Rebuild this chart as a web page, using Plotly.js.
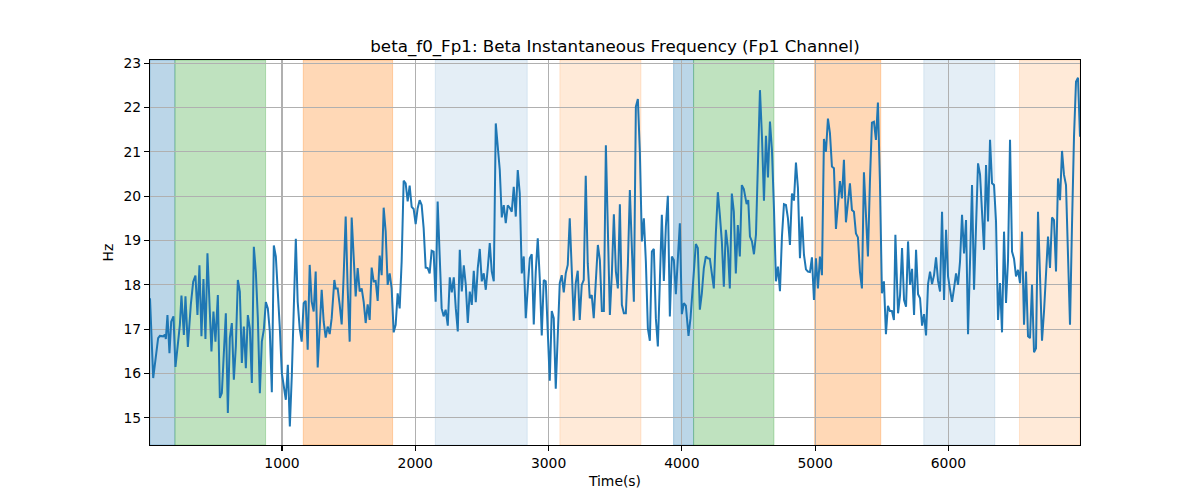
<!DOCTYPE html>
<html>
<head>
<meta charset="utf-8">
<script src="https://cdn.plot.ly/plotly-3.0.1.min.js"></script>
<style>
  html, body { margin: 0; padding: 0; background: #fff; }
  #plot { width: 1200px; height: 500px; }
</style>
</head>
<body>
<div id="plot"></div>
<script>
// time (s) and instantaneous frequency (Hz)
var time = [
  10, 34, 71, 84, 109, 121, 129, 141, 156, 169, 186, 201, 221, 234, 246, 264, 276, 294, 316, 334,
  351, 366, 381, 396, 411, 426, 441, 456, 471, 486, 501, 519, 534, 549, 564, 579, 594, 609, 624, 639,
  654, 669, 684, 699, 714, 729, 744, 759, 774, 789, 804, 819, 834, 849, 864, 879, 894, 909, 924, 939,
  954, 969, 984, 999, 1014, 1029, 1044, 1059, 1074, 1089, 1104,
  1118, 1133, 1148, 1163, 1178, 1193, 1208, 1223, 1238, 1253, 1268, 1283, 1298, 1313, 1328, 1343, 1358, 1373, 1393, 1403,
  1418, 1433, 1448, 1463, 1478, 1493, 1508, 1523, 1538, 1553, 1568, 1583, 1598, 1613, 1628, 1643, 1658, 1673, 1688, 1703,
  1718, 1733, 1748, 1763, 1778, 1793, 1808, 1823, 1838, 1853, 1868, 1883, 1898, 1913, 1928, 1943, 1958, 1973, 1988, 2003,
  2018, 2033, 2048, 2063, 2078, 2093, 2108, 2123, 2138, 2153, 2168, 2183, 2198, 2213, 2228,
  2244, 2259, 2274, 2289, 2304, 2319, 2334, 2349, 2364, 2379, 2394, 2409, 2424, 2439, 2454, 2469, 2484, 2499, 2514, 2529,
  2544, 2559, 2574, 2589, 2604, 2619, 2634, 2649, 2664, 2679, 2694, 2709, 2724, 2739, 2754, 2769, 2784, 2799, 2814, 2829,
  2844, 2859, 2874, 2889, 2904, 2919, 2934, 2949, 2964, 2979, 2994, 3009, 3024, 3039, 3054, 3069, 3084, 3099, 3114, 3129,
  3144, 3159, 3174, 3189, 3204, 3219, 3234, 3249, 3264, 3279, 3294, 3309, 3324, 3339,
  3370, 3385, 3400, 3415, 3430, 3445, 3460, 3475, 3490, 3505, 3520, 3535, 3550, 3565, 3580, 3595, 3610, 3625, 3640, 3655,
  3670, 3685, 3700, 3715, 3730, 3745, 3760, 3775, 3790, 3805, 3820, 3835, 3850, 3865, 3880, 3895, 3910, 3925, 3940, 3955,
  3970, 3985, 4000, 4015, 4030, 4050, 4065, 4080, 4090, 4105, 4120, 4135, 4150, 4165, 4180, 4195, 4210, 4225, 4240, 4255,
  4270, 4285, 4300, 4315, 4330, 4345, 4360, 4375, 4390, 4405, 4420, 4435, 4450, 4465,
  4486, 4498, 4511, 4526, 4541, 4556, 4571, 4586, 4601, 4616, 4631, 4646, 4661, 4676, 4691, 4706, 4721, 4736, 4751, 4766,
  4781, 4796, 4811, 4826, 4841, 4856, 4871, 4886, 4901, 4916, 4931, 4946, 4961, 4976, 4991, 5006, 5021, 5036, 5051, 5066,
  5081, 5096, 5111, 5126, 5141, 5156, 5171, 5186, 5201, 5216, 5231, 5246, 5261, 5276, 5291, 5306, 5321, 5336, 5351, 5366,
  5381, 5396, 5411, 5426, 5441, 5456, 5471, 5486, 5501, 5516, 5531, 5546, 5561, 5576, 5591,
  5602, 5622, 5637, 5652, 5667, 5682, 5697, 5712, 5727, 5742, 5757, 5772, 5787, 5802, 5817, 5832, 5847, 5862, 5877, 5892,
  5907, 5922, 5937, 5952, 5967, 5982, 5997, 6012, 6027, 6042, 6057, 6072, 6087, 6102, 6117, 6132, 6147, 6162, 6177, 6192,
  6207, 6222, 6237, 6252, 6267, 6282, 6297, 6312, 6327, 6342, 6357, 6372, 6387, 6402, 6417, 6432, 6447, 6462, 6477, 6492,
  6507, 6522, 6537, 6552, 6567, 6582, 6597, 6612, 6627, 6642, 6657, 6672, 6687, 6702, 6717, 6732, 6747, 6762, 6777, 6792,
  6807, 6822, 6837, 6852, 6867, 6882, 6897, 6912, 6927, 6942, 6957, 6972, 6987
];
var freq = [
  17.70, 15.90, 16.80, 16.85, 16.84, 16.88, 16.78, 17.32, 16.46, 17.17, 17.29, 16.15, 16.72, 17.10, 17.76, 16.87, 17.74, 16.60, 17.55, 18.07,
  18.21, 17.32, 18.44, 16.84, 18.13, 16.78, 18.71, 17.47, 16.50, 17.40, 16.72, 17.77, 15.45, 15.56, 16.61, 17.36, 15.11, 16.80, 17.14, 15.86,
  16.61, 18.11, 17.85, 16.24, 17.06, 16.12, 17.32, 17.02, 15.79, 18.86, 18.29, 17.25, 15.56, 16.72, 16.99, 17.61, 17.47, 16.95, 15.58, 18.89,
  18.64, 17.92, 17.02, 16.01, 15.67, 15.41, 16.20, 14.81, 15.97, 17.47, 19.04,
  17.62, 17.02, 16.72, 17.59, 17.64, 16.54, 18.45, 17.62, 17.40, 18.30, 16.14, 17.02, 17.89, 17.17, 16.81, 17.06, 16.89, 17.25, 18.11, 17.92,
  17.92, 17.55, 17.11, 18.22, 19.54, 17.92, 16.72, 19.52, 18.75, 17.74, 18.38, 17.85, 17.92, 17.62, 17.14, 17.56, 17.21, 18.39, 18.08, 18.09,
  17.64, 18.66, 18.22, 19.74, 19.20, 18.00, 18.26, 17.92, 16.93, 17.10, 17.81, 17.47, 18.53, 20.35, 20.29, 19.88, 20.24, 19.76, 19.71, 19.37,
  19.73, 19.91, 19.80, 19.28, 18.39, 18.38, 18.26, 18.77, 18.75, 17.62, 19.88, 18.53, 17.47, 17.29, 17.44,
  17.08, 18.17, 17.83, 18.17, 17.47, 16.95, 18.79, 17.85, 18.44, 18.00, 17.14, 17.85, 17.55, 18.32, 17.61, 18.38, 18.81, 18.08, 18.26, 17.89,
  18.38, 18.94, 18.30, 18.08, 21.64, 21.00, 20.59, 19.52, 19.80, 19.39, 19.79, 19.74, 19.65, 20.21, 19.54, 20.59, 20.06, 18.26, 18.64, 17.25,
  17.92, 18.60, 18.69, 17.11, 18.30, 19.05, 18.15, 16.86, 18.11, 18.08, 16.95, 15.84, 17.41, 17.25, 15.66, 16.87, 18.04, 18.22, 17.83, 18.26,
  18.45, 19.50, 18.38, 17.19, 18.04, 18.32, 17.21, 18.00, 18.11, 20.46, 18.49, 17.70, 17.77, 17.25,
  18.90, 18.56, 17.41, 17.41, 21.15, 18.98, 17.32, 18.26, 19.59, 18.30, 17.92, 19.82, 17.55, 17.36, 17.36, 18.45, 20.14, 18.83, 17.62, 22.02,
  22.19, 21.00, 18.98, 19.50, 18.53, 17.02, 16.74, 18.75, 18.81, 17.25, 16.61, 18.08, 19.58, 18.09, 19.31, 20.01, 17.29, 18.64, 18.56, 17.79,
  18.68, 19.39, 17.34, 17.59, 17.53, 16.85, 17.25, 17.92, 18.19, 18.92, 18.83, 17.44, 17.81, 18.38, 18.64, 18.60, 18.59, 18.30, 17.92, 19.16,
  20.09, 19.58, 18.98, 17.96, 19.24, 18.84, 17.92, 20.06, 19.65, 18.26, 19.35, 18.64, 20.25, 20.16,
  19.82, 19.91, 19.09, 18.98, 18.69, 19.13, 20.93, 22.39, 21.34, 19.90, 21.36, 20.42, 21.68, 21.04, 19.73, 18.08, 18.41, 17.86, 19.09, 19.82,
  19.80, 19.50, 18.90, 20.06, 19.90, 20.76, 20.18, 18.60, 19.54, 18.68, 18.35, 18.30, 18.29, 18.62, 17.66, 18.60, 17.92, 18.64, 18.22, 21.29,
  21.00, 21.75, 21.42, 20.67, 20.63, 19.26, 19.80, 20.34, 19.95, 20.82, 19.41, 19.95, 20.29, 19.69, 19.65, 19.16, 19.07, 18.30, 17.92, 20.54,
  19.46, 18.64, 20.33, 21.66, 21.68, 21.27, 22.11, 20.33, 17.81, 18.08, 16.89, 17.53, 17.41, 17.41, 17.21,
  19.13, 17.36, 17.77, 18.83, 17.66, 17.51, 18.98, 18.00, 18.36, 17.32, 18.79, 17.79, 17.70, 17.08, 17.34, 16.86, 18.02, 18.30, 18.02, 18.22,
  18.62, 18.09, 17.85, 19.65, 17.66, 19.24, 18.19, 17.89, 17.62, 17.92, 18.26, 18.00, 18.53, 19.58, 18.71, 19.46, 16.89, 18.53, 20.25, 17.89,
  19.20, 20.74, 20.49, 19.65, 18.79, 20.70, 19.43, 21.27, 20.29, 20.25, 19.43, 17.21, 18.04, 16.93, 19.20, 17.59, 18.56, 21.27, 18.75, 18.59,
  18.19, 18.34, 18.04, 19.20, 17.10, 18.30, 16.84, 16.80, 18.00, 16.48, 16.57, 19.65, 18.30, 16.74, 17.40, 18.22, 19.09, 18.38, 19.52, 19.46,
  18.30, 20.40, 19.91, 21.02, 20.48, 20.25, 18.68, 17.10, 19.35, 21.34, 22.58, 22.67, 21.34
];

// shaded segments
var bandStart = [10, 197, 1160, 2150, 3085, 3938, 4088, 4996, 5815, 6533];
var bandEnd   = [197, 877, 1830, 2840, 3693, 4088, 4691, 5492, 6348, 6987];
var bandColor = ['31,119,180', '44,160,44', '255,127,14', '31,119,180', '255,127,14',
                 '31,119,180', '44,160,44', '255,127,14', '31,119,180', '255,127,14'];
var bandAlpha = [0.3, 0.3, 0.3, 0.12, 0.16, 0.3, 0.3, 0.3, 0.12, 0.16];

var shapes = bandStart.map(function (s, i) {
  return {
    type: 'rect', xref: 'x', yref: 'paper',
    x0: s, x1: bandEnd[i], y0: 0, y1: 1,
    fillcolor: 'rgba(' + bandColor[i] + ',' + bandAlpha[i] + ')',
    line: { color: 'rgba(' + bandColor[i] + ',' + bandAlpha[i] + ')', width: 1 },
    layer: 'below'
  };
});

var axisStyle = {
  showline: true, mirror: true, linecolor: 'black', linewidth: 1.1,
  ticks: 'outside', ticklen: 5, tickwidth: 1.1, tickcolor: 'black',
  showgrid: true, gridcolor: '#b0b0b0', gridwidth: 1.1,
  zeroline: false,
  tickfont: { size: 13.9, color: 'black' }
};

Plotly.newPlot('plot', [{
  x: time,
  y: freq,
  type: 'scatter',
  mode: 'lines',
  line: { color: '#1f77b4', width: 2 },
  hoverinfo: 'x+y'
}], {
  width: 1200,
  height: 500,
  margin: { l: 150, r: 120, t: 60, b: 55 },
  paper_bgcolor: 'white',
  plot_bgcolor: 'white',
  font: { family: 'DejaVu Sans, sans-serif', color: 'black' },
  showlegend: false,
  title: {
    text: 'beta_f0_Fp1: Beta Instantaneous Frequency (Fp1 Channel)',
    font: { size: 16.7 },
    x: 0.5, xref: 'paper', y: 0.908, yref: 'container', yanchor: 'middle'
  },
  xaxis: Object.assign({}, axisStyle, {
    range: [time[0], time[time.length - 1]],
    tickvals: [1000, 2000, 3000, 4000, 5000, 6000],
    title: { text: 'Time(s)', font: { size: 13.9 }, standoff: 6 }
  }),
  yaxis: Object.assign({}, axisStyle, {
    range: [14.39, 23.07],
    tickvals: [15, 16, 17, 18, 19, 20, 21, 22, 23],
    title: { text: 'Hz', font: { size: 13.9 }, standoff: 6 }
  }),
  shapes: shapes
}, { displayModeBar: false, staticPlot: true });
</script>
</body>
</html>
